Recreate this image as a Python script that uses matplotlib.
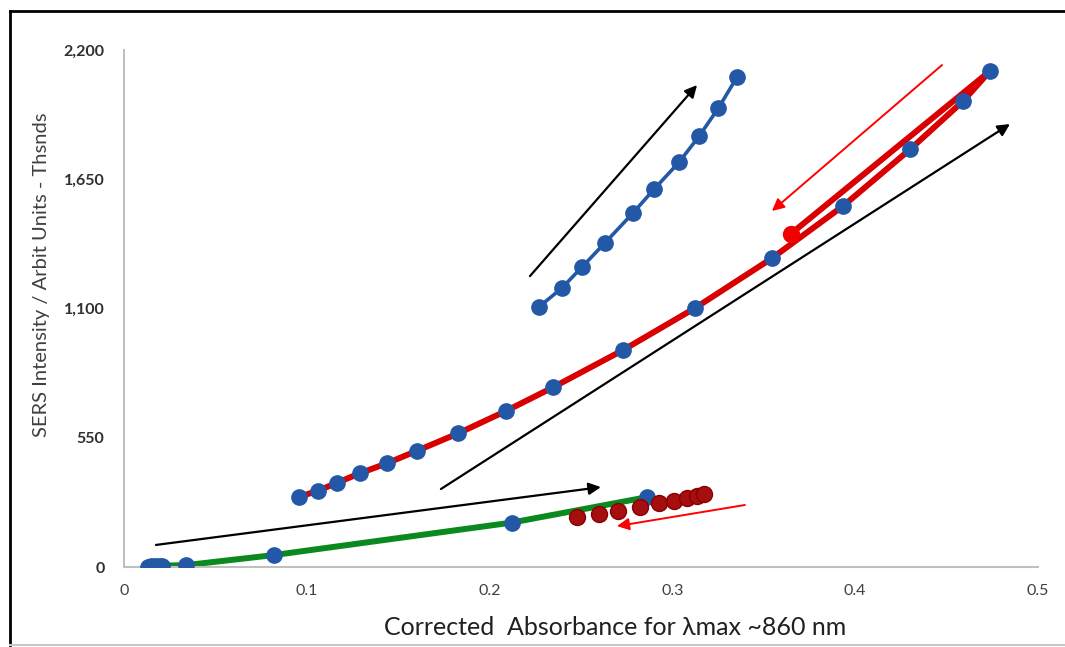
import matplotlib.pyplot as plt
from matplotlib.lines import Line2D

plt.rcParams['font.family'] = ['Lato', 'DejaVu Sans']

# rising run (upper blue curve)
up_x = [0.2272, 0.2394, 0.2504, 0.2632, 0.2783, 0.2899, 0.3036, 0.3147, 0.3251, 0.3355]
up_y = [1108, 1186, 1275, 1380, 1505, 1607, 1722, 1834, 1952, 2086]

# middle curve, forward points
mid_x = [0.0959, 0.1063, 0.1167, 0.1291, 0.1437, 0.1601, 0.1829, 0.2090, 0.2348,
         0.2730, 0.3124, 0.3543, 0.3935, 0.4300, 0.4591, 0.4737]
mid_y = [299, 325, 359, 399, 441, 494, 569, 664, 765,
         923, 1102, 1313, 1537, 1777, 1983, 2110]
# middle curve, return leg
back_x = [0.4737, 0.3647]
back_y = [2110, 1417]

# low curve (green)
low_x = [0.013, 0.015, 0.017, 0.019, 0.021, 0.0339, 0.0821, 0.2121, 0.2859]
low_y = [2, 3, 4, 5, 6, 8, 51, 189, 297]

# low curve, return points
ret_x = [0.2476, 0.2600, 0.2704, 0.2823, 0.2927, 0.3010, 0.3078, 0.3133, 0.3173]
ret_y = [214, 226, 238, 254, 271, 282, 292, 303, 312]

# direction arrows: (x_from, y_from, x_to, y_to, colour)
arrows = [
    (0.2221, 1238, 0.3135, 2051, 'black'),
    (0.1734, 332, 0.4847, 1885, 'black'),
    (0.0175, 94, 0.2609, 340, 'black'),
    (0.4475, 2136, 0.3545, 1515, 'red'),
    (0.3397, 264, 0.2697, 174, 'red'),
]

blue = '#2358A6'

fig = plt.figure(figsize=(10.65, 6.47), dpi=100)
ax = fig.add_axes([0.1164, 0.1236, 0.8582, 0.7991])

ax.plot(low_x, low_y, color='#0A8A1E', lw=4.3, zorder=2)
ax.plot(low_x, low_y, 'o', color=blue, ms=11, zorder=3)
ax.plot(ret_x, ret_y, 'o', color='#A50F0F', mec='#8A0000', ms=11.5, zorder=4)

ax.plot(mid_x, mid_y, color='#D80000', lw=4.3, zorder=2)
ax.plot(back_x, back_y, color='#D80000', lw=4.3, zorder=2)
ax.plot(back_x[-1:], back_y[-1:], 'o', color='#F00000', ms=11.5, zorder=3)
ax.plot(mid_x, mid_y, 'o', color=blue, ms=11, zorder=3)

ax.plot(up_x, up_y, color=blue, lw=2.6, marker='o', ms=11, zorder=3)

for x0, y0, x1, y1, c in arrows:
    w = 1.6 if c == 'black' else 1.4
    ax.annotate('', xy=(x1, y1), xytext=(x0, y0),
                arrowprops=dict(arrowstyle='-|>', color=c, lw=w,
                                mutation_scale=18, shrinkA=0, shrinkB=0),
                zorder=5)

ax.set_xlim(0, 0.5)
ax.set_ylim(0, 2200)
ax.set_xticks([0, 0.1, 0.2, 0.3, 0.4, 0.5])
ax.set_xticklabels(['0', '0.1', '0.2', '0.3', '0.4', '0.5'])
ax.set_yticks([0, 550, 1100, 1650, 2200])
ax.set_yticklabels(['0', '550', '1,100', '1,650', '2,200'], fontweight='bold')
ax.tick_params(axis='x', length=0, pad=12, labelsize=11.5, labelcolor='#404040')
ax.tick_params(axis='y', length=0, pad=14, labelsize=11.5, labelcolor='#303030')
for s in ['top', 'right']:
    ax.spines[s].set_visible(False)
for s in ['left', 'bottom']:
    ax.spines[s].set_color('#BFBFBF')
    ax.spines[s].set_linewidth(1.5)

ax.set_ylabel('SERS Intensity / Arbit Units - Thsnds', fontsize=14.5,
              color='#404040')
ax.yaxis.set_label_coords(-0.081, 0.565)
ax.set_xlabel('Corrected  Absorbance for λmax ~860 nm', fontsize=18,
              color='#202020')
ax.xaxis.set_label_coords(0.537, -0.094)

# outer frame
fig.add_artist(Line2D([0.009, 1.0], [0.983, 0.983], color='black', lw=2))
fig.add_artist(Line2D([0.009, 0.009], [0.003, 0.983], color='black', lw=2))
fig.add_artist(Line2D([0.009, 1.0], [0.003, 0.003], color='#C8C8C8', lw=1.5))

fig.savefig('out.png', dpi=100)
